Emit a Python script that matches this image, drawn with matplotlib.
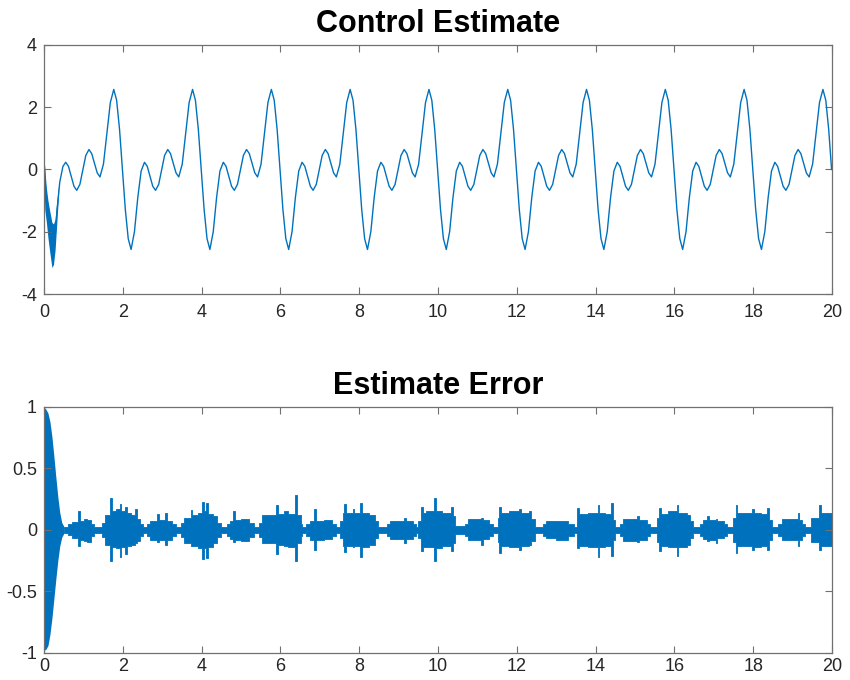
import numpy as np
import matplotlib
matplotlib.use("Agg")
import matplotlib.pyplot as plt

plt.rcParams['font.family'] = ['Liberation Sans', 'DejaVu Sans']

BLUE = '#0072BD'

# ---------------- Control Estimate (top) ----------------
# start-up transient
trans_t = [0.0, 0.005, 0.06, 0.14, 0.20, 0.27, 0.33, 0.40, 0.48]
trans_y = [1.0, 0.2, -1.1, -1.95, -2.55, -2.35, -1.3, -0.4, 0.1]
# thick noisy band at start
band_t = [0.0, 0.02, 0.06, 0.10, 0.14, 0.20, 0.24, 0.28, 0.33, 0.37]
band_hi = [0.4, 0.0, -0.6, -1.0, -1.3, -1.7, -1.75, -1.6, -0.95, -0.5]
band_lo = [-0.4, -1.3, -1.7, -2.2, -2.6, -3.15, -3.05, -2.6, -1.6, -0.8]

# one period of the steady waveform, relative to a big peak
prof_phase = [0.000, 0.073, 0.147, 0.220, 0.293, 0.367, 0.440, 0.525, 0.610,
              0.695, 0.780, 0.850, 0.920, 0.990, 1.060, 1.140, 1.215, 1.290,
              1.370, 1.440, 1.510, 1.580, 1.650, 1.738, 1.825, 1.913]
prof_val = [2.57, 2.22, 1.28, 0.00, -1.28, -2.22, -2.57, -2.00, -0.90,
            -0.05, 0.23, 0.10, -0.22, -0.54, -0.67, -0.48, -0.01, 0.45,
            0.64, 0.51, 0.20, -0.11, -0.24, 0.17, 1.16, 2.15]
# times of the big peaks
peak_times = [-0.23, 1.77, 3.77, 5.77, 7.77, 9.77, 11.77, 13.77, 15.77, 17.77, 19.77]

# ---------------- Estimate Error (bottom) ----------------
# decaying start-up envelope
etr_t = [0.0, 0.05, 0.10, 0.15, 0.20, 0.25, 0.30, 0.35, 0.40, 0.45, 0.50]
etr_hi = [1.0, 0.98, 0.95, 0.88, 0.76, 0.60, 0.43, 0.27, 0.14, 0.06, 0.03]
etr_lo = [-0.98, -0.97, -0.94, -0.85, -0.72, -0.56, -0.40, -0.25, -0.13, -0.06, -0.03]

# blocky burst envelope (segment start time, upper, lower)
err_t = [0.50, 0.62, 0.72, 0.86, 0.91, 1.02, 1.08, 1.18, 1.28,
         1.48, 1.56, 1.68, 1.72, 1.82, 1.92, 1.96, 2.06, 2.10, 2.22, 2.32, 2.36, 2.44, 2.50,
         2.62, 2.70, 2.88, 2.92, 3.08, 3.12, 3.26, 3.36,
         3.48, 3.56, 3.72, 3.76, 3.90, 4.02, 4.06, 4.12, 4.16, 4.30, 4.40, 4.48,
         4.64, 4.72, 4.80, 4.84, 5.00, 5.20, 5.34,
         5.46, 5.54, 5.90, 5.95, 6.10, 6.20, 6.38, 6.42, 6.52, 6.56,
         6.66, 6.74, 6.86, 6.90, 7.10, 7.30, 7.40,
         7.50, 7.58, 7.62, 7.66, 7.84, 7.88, 8.03, 8.07, 8.25, 8.40, 8.48,
         8.70, 8.78, 9.14, 9.18, 9.36, 9.44,
         9.50, 9.57, 9.61, 9.70, 9.90, 9.94, 10.10, 10.33, 10.37, 10.43,
         10.68, 10.76, 11.09, 11.13, 11.30, 11.40,
         11.53, 11.55, 11.59, 11.80, 12.06, 12.10, 12.32, 12.36, 12.46,
         12.67, 12.75, 13.00, 13.30, 13.44,
         13.52, 13.54, 13.58, 13.80, 14.05, 14.09, 14.25, 14.39, 14.43, 14.49,
         14.62, 14.70, 15.06, 15.10, 15.30, 15.38,
         15.55, 15.61, 15.65, 15.85, 16.06, 16.10, 16.33, 16.40, 16.48,
         16.65, 16.72, 16.84, 16.88, 17.05, 17.09, 17.25, 17.33,
         17.50, 17.56, 17.60, 17.98, 18.02, 18.20, 18.36, 18.40, 18.47,
         18.64, 18.72, 19.13, 19.17, 19.25, 19.31,
         19.48, 19.68, 19.72, 20.00]
err_hi = [0.025, 0.045, 0.065, 0.15, 0.07, 0.09, 0.08, 0.05, 0.025,
          0.06, 0.12, 0.26, 0.15, 0.17, 0.21, 0.15, 0.19, 0.14, 0.12, 0.17, 0.09, 0.05, 0.025,
          0.05, 0.075, 0.13, 0.08, 0.14, 0.075, 0.05, 0.025,
          0.06, 0.10, 0.16, 0.12, 0.14, 0.23, 0.15, 0.22, 0.13, 0.11, 0.06, 0.025,
          0.05, 0.07, 0.15, 0.08, 0.085, 0.06, 0.025,
          0.06, 0.12, 0.20, 0.13, 0.15, 0.13, 0.28, 0.12, 0.05, 0.025,
          0.05, 0.07, 0.17, 0.075, 0.08, 0.05, 0.025,
          0.07, 0.14, 0.21, 0.14, 0.17, 0.14, 0.22, 0.14, 0.12, 0.07, 0.025,
          0.05, 0.07, 0.10, 0.07, 0.05, 0.025,
          0.07, 0.19, 0.14, 0.15, 0.26, 0.15, 0.14, 0.19, 0.11, 0.03,
          0.05, 0.085, 0.10, 0.08, 0.05, 0.025,
          0.10, 0.19, 0.14, 0.15, 0.17, 0.14, 0.15, 0.09, 0.025,
          0.05, 0.07, 0.075, 0.05, 0.025,
          0.10, 0.18, 0.13, 0.14, 0.20, 0.14, 0.13, 0.22, 0.08, 0.025,
          0.05, 0.085, 0.11, 0.08, 0.05, 0.025,
          0.10, 0.18, 0.13, 0.15, 0.20, 0.14, 0.12, 0.07, 0.025,
          0.05, 0.08, 0.11, 0.08, 0.085, 0.07, 0.05, 0.025,
          0.10, 0.20, 0.14, 0.17, 0.14, 0.13, 0.18, 0.08, 0.025,
          0.05, 0.085, 0.14, 0.08, 0.05, 0.025,
          0.10, 0.20, 0.14, 0.14]
err_lo = [-0.025, -0.045, -0.07, -0.13, -0.08, -0.09, -0.095, -0.05, -0.025,
          -0.06, -0.12, -0.25, -0.14, -0.15, -0.22, -0.14, -0.20, -0.13, -0.12, -0.11, -0.09, -0.05, -0.025,
          -0.05, -0.08, -0.10, -0.085, -0.12, -0.08, -0.05, -0.025,
          -0.06, -0.11, -0.13, -0.13, -0.15, -0.24, -0.15, -0.23, -0.14, -0.11, -0.06, -0.025,
          -0.05, -0.075, -0.10, -0.085, -0.09, -0.06, -0.025,
          -0.06, -0.11, -0.20, -0.12, -0.13, -0.14, -0.25, -0.11, -0.05, -0.025,
          -0.05, -0.08, -0.16, -0.08, -0.075, -0.05, -0.025,
          -0.07, -0.13, -0.18, -0.13, -0.14, -0.13, -0.22, -0.14, -0.12, -0.07, -0.025,
          -0.05, -0.075, -0.11, -0.075, -0.05, -0.025,
          -0.07, -0.17, -0.14, -0.14, -0.25, -0.15, -0.13, -0.17, -0.11, -0.03,
          -0.05, -0.08, -0.12, -0.075, -0.05, -0.025,
          -0.10, -0.19, -0.13, -0.14, -0.16, -0.13, -0.12, -0.09, -0.025,
          -0.05, -0.07, -0.08, -0.05, -0.025,
          -0.10, -0.15, -0.13, -0.14, -0.22, -0.14, -0.13, -0.21, -0.08, -0.025,
          -0.05, -0.09, -0.10, -0.085, -0.05, -0.025,
          -0.10, -0.17, -0.13, -0.14, -0.21, -0.14, -0.12, -0.07, -0.025,
          -0.05, -0.075, -0.09, -0.08, -0.11, -0.07, -0.05, -0.025,
          -0.10, -0.19, -0.13, -0.16, -0.14, -0.13, -0.16, -0.08, -0.025,
          -0.05, -0.08, -0.13, -0.08, -0.05, -0.025,
          -0.10, -0.16, -0.13, -0.13]

x_ticks = [0, 2, 4, 6, 8, 10, 12, 14, 16, 18, 20]
top_yticks = [-4, -2, 0, 2, 4]
bot_yticks = [-1, -0.5, 0, 0.5, 1]

# ---------------- build top series ----------------
ph = np.array(prof_phase)
pv = np.array(prof_val)
seg_t, seg_y = [], []
for p in peak_times:
    seg_t.append(p + ph)
    seg_y.append(pv)
st = np.concatenate(seg_t)
sy = np.concatenate(seg_y)
keep = (st >= 0.55) & (st <= 20.0)
top_t = np.concatenate([trans_t, st[keep]])
top_y = np.concatenate([trans_y, sy[keep]])

fig = plt.figure(figsize=(8.5, 6.8), dpi=100)
ax1 = fig.add_axes([0.0518, 0.5676, 0.927, 0.3664])
ax2 = fig.add_axes([0.0518, 0.0400, 0.927, 0.3615])

ax1.fill_between(band_t, band_lo, band_hi, color=BLUE, lw=0)
ax1.plot(top_t, top_y, color=BLUE, lw=1.0)
ax1.set_xlim(0, 20)
ax1.set_ylim(-4, 4)
ax1.set_yticks(top_yticks)
ax1.set_yticklabels([str(v) for v in top_yticks])

ax2.fill_between(etr_t, etr_lo, etr_hi, color=BLUE, lw=0)
ax2.fill_between(err_t, err_lo, err_hi, step='post', color=BLUE, lw=0.6, edgecolor=BLUE)
ax2.set_xlim(0, 20)
ax2.set_ylim(-1, 1)
ax2.set_yticks(bot_yticks)
ax2.set_yticklabels(['-1', '-0.5', '0', '0.5', '1'])

for ax, title in ((ax1, 'Control Estimate'), (ax2, 'Estimate Error')):
    ax.set_xticks(x_ticks)
    ax.set_xticklabels([str(v) for v in x_ticks])
    ax.tick_params(direction='in', top=True, right=True, length=5, width=0.8,
                   color='#707070', labelsize=13, labelcolor='#262626', pad=5)
    for s in ax.spines.values():
        s.set_color('#707070')
        s.set_linewidth(0.9)
    ax.set_title(title, fontsize=22, fontweight='bold', color='black', pad=9)

ax1.tick_params(axis='x', pad=7)
ax2.tick_params(axis='x', pad=4)

fig.savefig('out.png', dpi=100)
